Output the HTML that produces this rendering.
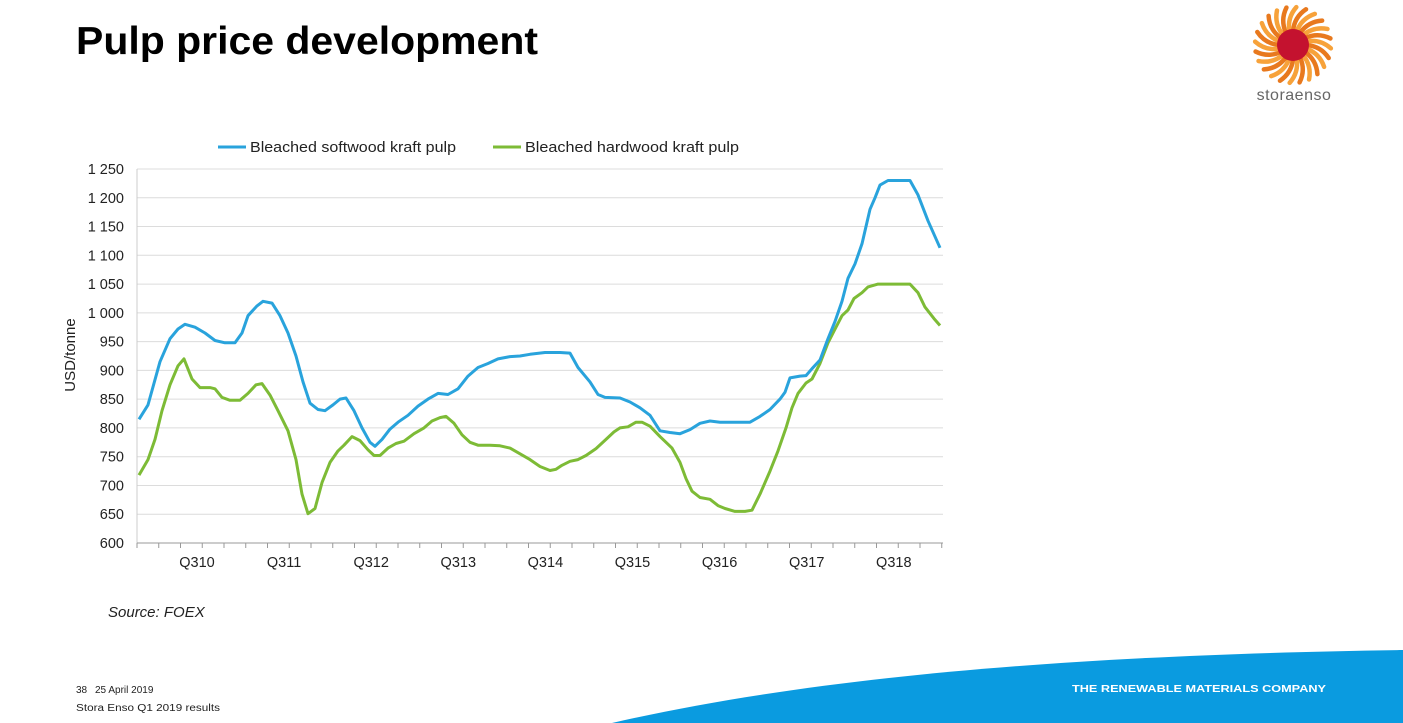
<!DOCTYPE html>
<html><head><meta charset="utf-8"><style>
body{margin:0;width:1403px;height:723px;overflow:hidden;background:#fff;font-family:"Liberation Sans",sans-serif;}
</style></head><body>
<svg width="1403" height="723" xmlns="http://www.w3.org/2000/svg" style="position:absolute;left:0;top:0" id="s">
<text x="76" y="54" font-size="39" font-weight="bold" fill="#000" textLength="462" lengthAdjust="spacingAndGlyphs">Pulp price development</text>
<g id="logo"></g>
<text x="1294" y="100" font-size="16" fill="#666" text-anchor="middle" letter-spacing="0.5">storaenso</text>
<g id="grid"></g>
<line x1="218" y1="147" x2="246" y2="147" stroke="#29a3dc" stroke-width="3"/>
<text x="250" y="152" font-size="15" fill="#222" textLength="206" lengthAdjust="spacingAndGlyphs">Bleached softwood kraft pulp</text>
<line x1="493" y1="147" x2="521" y2="147" stroke="#7dbb36" stroke-width="3"/>
<text x="525" y="152" font-size="15" fill="#222" textLength="214" lengthAdjust="spacingAndGlyphs">Bleached hardwood kraft pulp</text>
<text transform="translate(75,355) rotate(-90)" font-size="15" fill="#222" text-anchor="middle">USD/tonne</text>
<polyline id="g" fill="none" stroke="#7dbb36" stroke-width="3" stroke-linejoin="round"/>
<polyline id="b" fill="none" stroke="#29a3dc" stroke-width="3" stroke-linejoin="round"/>
<text x="108" y="617" font-size="15" font-style="italic" fill="#222">Source:  FOEX</text>
<path d="M612,723 C800,680 1050,655 1403,650 L1403,723 Z" fill="#0a9be0"/>
<text x="1072" y="692" font-size="10.5" font-weight="bold" fill="#fff" textLength="254" lengthAdjust="spacingAndGlyphs">THE RENEWABLE MATERIALS COMPANY</text>
<text x="76" y="693" font-size="10" fill="#222">38</text>
<text x="95" y="693" font-size="10" fill="#222">25 April 2019</text>
<text x="76" y="711" font-size="10" fill="#222" textLength="144" lengthAdjust="spacingAndGlyphs">Stora Enso Q1 2019 results</text>
</svg>
<script>
var NS="http://www.w3.org/2000/svg";
function Y(v){return 543-(v-600)*0.5754;}
function el(t,a,p,txt){var e=document.createElementNS(NS,t);for(var k in a)e.setAttribute(k,a[k]);if(txt)e.textContent=txt;p.appendChild(e);return e;}
var g=document.getElementById('grid');
for(var v=600;v<=1250;v+=50){var y=Y(v);
 if(v>600)el('line',{x1:137,x2:943,y1:y,y2:y,stroke:'#dcdcdc','stroke-width':1},g);
 var s=v>=1000?('1 '+String(v).slice(1)):String(v);
 el('text',{x:124,y:y+5,'font-size':14.5,'text-anchor':'end',fill:'#222'},g,s);}
el('line',{x1:137,x2:137,y1:169,y2:543,stroke:'#ccc'},g);
el('line',{x1:137,x2:943,y1:543,y2:543,stroke:'#999'},g);
for(var x=137;x<=944;x+=21.75)el('line',{x1:x,x2:x,y1:543,y2:548,stroke:'#999'},g);
for(var i=0;i<9;i++)el('text',{x:197+i*87.1,y:567,'font-size':14.5,'text-anchor':'middle',fill:'#222'},g,'Q3'+(10+i));
var B=[139,815,148,840,160,915,170,955,178,972,185,980,195,975,205,965,215,952,225,948,235,948,242,965,248,995,257,1012,263,1020,272,1017,280,995,288,965,296,925,303,880,310,843,318,832,325,830,333,840,340,850,346,852,354,830,362,800,370,775,375,768,382,780,390,798,398,810,408,822,418,838,428,850,438,860,448,858,458,868,468,890,478,905,488,912,498,920,510,924,520,925,530,928,545,931,560,931,570,930,578,905,590,880,598,858,605,853,620,852,630,845,640,835,650,822,660,795,670,792,680,790,690,797,700,808,710,812,720,810,730,810,740,810,750,810,760,820,770,832,780,850,785,862,790,887,800,890,806,891,812,903,820,918,828,955,835,985,842,1020,848,1060,855,1085,862,1120,866,1150,870,1180,875,1200,880,1222,888,1230,898,1230,910,1230,918,1205,928,1160,940,1113];
var G=[139,718,148,745,155,780,162,830,170,875,178,908,184,920,192,885,200,870,210,870,215,868,222,853,230,848,240,848,248,860,256,875,262,877,270,857,278,830,288,795,296,745,302,685,308,651,315,660,322,705,330,740,338,760,344,770,352,785,360,778,368,762,374,752,380,752,388,765,396,773,404,777,414,790,424,800,432,812,440,818,446,820,454,808,462,788,470,775,478,770,490,770,500,769,510,765,520,755,530,745,540,733,550,726,556,728,562,735,570,742,578,745,586,752,596,764,606,780,614,793,620,800,628,802,636,810,642,810,650,803,660,785,672,765,680,740,686,712,692,690,700,679,710,676,718,665,725,660,735,655,745,655,752,657,760,685,770,725,778,760,786,800,792,835,798,860,806,878,812,885,820,912,828,948,836,975,842,995,848,1005,854,1025,862,1035,868,1045,878,1050,890,1050,900,1050,910,1050,918,1035,925,1010,934,990,940,978];
function pts(a){var r=[];for(var i=0;i<a.length;i+=2)r.push(a[i]+','+Y(a[i+1]).toFixed(1));return r.join(' ');}
document.getElementById('b').setAttribute('points',pts(B));
document.getElementById('g').setAttribute('points',pts(G));
var L=document.getElementById('logo'),cx=1293,cy=45;
for(var k=0;k<24;k++){var a=k*Math.PI/12;
 var x1=cx+14*Math.cos(a),y1=cy+14*Math.sin(a),x2=cx+38*Math.cos(a+0.35),y2=cy+38*Math.sin(a+0.35),mx=cx+28*Math.cos(a+0.05),my=cy+28*Math.sin(a+0.05);
 el('path',{d:'M'+x1+','+y1+' Q'+mx+','+my+' '+x2+','+y2,stroke:k%2?'#f7a23a':'#e8791e','stroke-width':4.5,fill:'none','stroke-linecap':'round'},L);}
el('circle',{cx:cx,cy:cy,r:16,fill:'#c4122f'},L);
</script>
</body></html>
